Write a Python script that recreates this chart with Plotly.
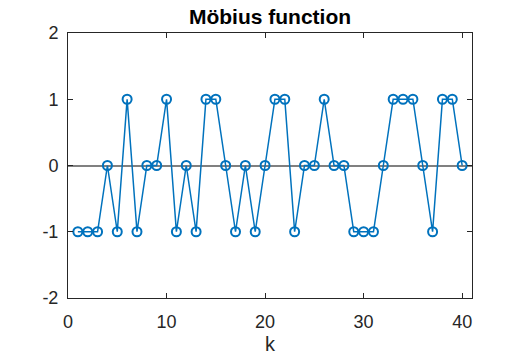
import plotly.graph_objects as go

k = list(range(1, 41))
mu = [-1, -1, -1, 0, -1, 1, -1, 0, 0, 1,
      -1, 0, -1, 1, 1, 0, -1, 0, -1, 0,
      1, 1, -1, 0, 0, 1, 0, 0, -1, -1,
      -1, 0, 1, 1, 1, 0, -1, 1, 1, 0]
xticks = [0, 10, 20, 30, 40]
yticks = [-2, -1, 0, 1, 2]

FONT = "Liberation Sans, Arial, sans-serif"

fig = go.Figure()
fig.add_trace(go.Scatter(
    x=k, y=mu, mode="lines+markers",
    line=dict(color="#0072BD", width=1.5),
    marker=dict(symbol="circle-open", size=9, color="#0072BD", line=dict(width=2)),
))

axis_common = dict(
    showgrid=False, ticks="inside", ticklen=5, tickcolor="#262626",
    showline=True, linecolor="#262626", linewidth=1, mirror="ticks",
    tickfont=dict(family=FONT, size=18, color="#262626"),
    automargin=False,
)
fig.update_xaxes(range=[0, 41], tickvals=xticks, zeroline=False, ticklabelstandoff=7,
                 title=dict(text="k", font=dict(family=FONT, size=20, color="#262626"), standoff=6),
                 **axis_common)
fig.update_yaxes(range=[-2, 2], tickvals=yticks, ticktext=[str(v) for v in yticks],
                 zeroline=True, zerolinecolor="#808080", zerolinewidth=2, ticklabelstandoff=5,
                 **axis_common)

fig.update_layout(
    width=523, height=360,
    margin=dict(l=68, r=51, t=33, b=62),
    plot_bgcolor="white", paper_bgcolor="white",
    showlegend=False,
    title=dict(text="<b>Möbius function</b>", x=0.5, xanchor="center", xref="paper",
               y=1 - 17 / 360, yref="container", yanchor="middle",
               font=dict(family=FONT, size=21, color="black")),
)

fig.write_html("out.html")
